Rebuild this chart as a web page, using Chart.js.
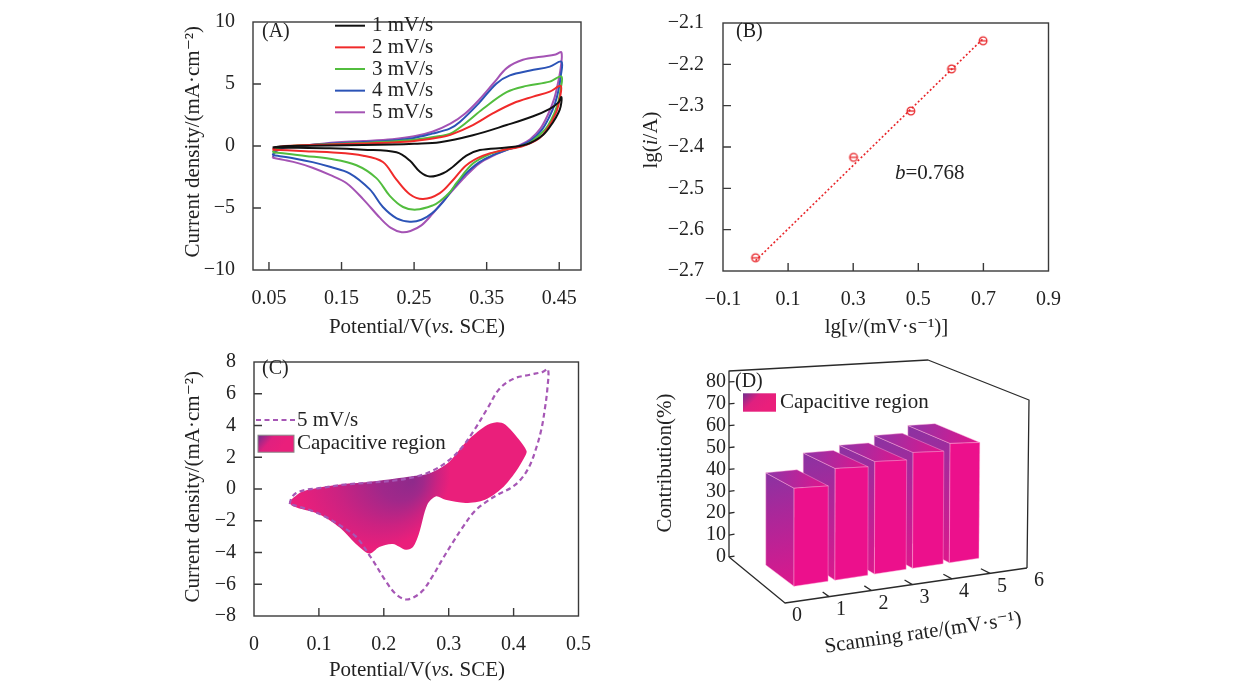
<!DOCTYPE html>
<html>
<head>
<meta charset="utf-8">
<script src="https://cdn.jsdelivr.net/npm/chart.js@4.4.0/dist/chart.umd.min.js"></script>
<style>
  html, body { margin: 0; padding: 0; background: #fff; }
  #fig { position: relative; width: 1236px; height: 681px; overflow: hidden; background: #fff; }
  #fig canvas { position: absolute; }
</style>
</head>
<body>
<div id="fig">
  <canvas id="panelA" width="420" height="340" style="left:180px;top:0px"></canvas>
  <canvas id="panelB" width="440" height="340" style="left:630px;top:0px"></canvas>
  <canvas id="panelC" width="420" height="341" style="left:180px;top:340px"></canvas>
  <canvas id="panelD" width="410" height="331" style="left:650px;top:350px"></canvas>
</div>
<script>
// ---- data ----
// (A) CV loops, [potential V, current density mA/cm2], anodic branch then back
const scanLabels = ['1 mV/s', '2 mV/s', '3 mV/s', '4 mV/s', '5 mV/s'];
const cv1 = [[0.055,-0.13],[0.065,-0.03],[0.08,0.0],[0.134,0.05],[0.18,0.08],[0.22,0.12],[0.25,0.18],[0.2855,0.3],[0.331,0.86],[0.3775,1.69],[0.414,2.4],[0.437,3.0],[0.4487,3.5],[0.453,3.95],
  [0.452,3.2],[0.449,2.7],[0.4417,1.94],[0.428,0.91],[0.405,0.13],[0.3775,-0.13],[0.3406,-0.33],[0.322,-0.78],[0.304,-1.65],[0.29,-2.2],[0.2717,-2.46],[0.258,-2.07],[0.244,-1.17],[0.2257,-0.51],[0.18,-0.3],[0.134,-0.18],[0.09,-0.15],[0.055,-0.13]];
const cv2 = [[0.055,-0.3],[0.058,-0.15],[0.065,-0.05],[0.08,0.02],[0.134,0.12],[0.18,0.2],[0.22,0.28],[0.25,0.4],[0.2855,0.7],[0.30,0.9],[0.331,1.69],[0.359,2.65],[0.3866,3.45],[0.414,3.98],[0.437,4.38],[0.452,4.85],
  [0.451,3.9],[0.447,2.9],[0.442,2.25],[0.437,1.69],[0.423,0.65],[0.40,0.0],[0.3727,-0.33],[0.345,-0.78],[0.322,-1.55],[0.304,-2.72],[0.2855,-3.8],[0.2624,-4.28],[0.244,-3.89],[0.2257,-2.72],[0.207,-1.29],[0.18,-0.78],[0.134,-0.51],[0.10,-0.42],[0.075,-0.35],[0.055,-0.3]];
const cv3 = [[0.055,-0.5],[0.058,-0.3],[0.065,-0.12],[0.08,0.0],[0.134,0.15],[0.18,0.25],[0.22,0.36],[0.25,0.5],[0.2855,0.8],[0.30,1.0],[0.32,1.8],[0.345,3.0],[0.3775,4.35],[0.405,4.85],[0.437,5.19],[0.453,5.6],
  [0.452,4.6],[0.449,3.6],[0.443,2.6],[0.435,1.7],[0.428,1.17],[0.415,0.5],[0.405,0.13],[0.3775,-0.26],[0.3544,-0.65],[0.331,-1.42],[0.3085,-2.98],[0.299,-3.75],[0.2855,-4.45],[0.276,-4.79],[0.2533,-5.13],[0.2348,-4.92],[0.2165,-4.02],[0.198,-2.59],[0.1706,-1.55],[0.134,-1.03],[0.10,-0.8],[0.075,-0.62],[0.055,-0.5]];
const cv4 = [[0.055,-0.75],[0.058,-0.45],[0.065,-0.2],[0.08,-0.03],[0.134,0.2],[0.18,0.32],[0.22,0.45],[0.25,0.65],[0.275,1.0],[0.299,1.4],[0.313,1.94],[0.34,3.5],[0.3636,5.05],[0.382,5.7],[0.41,6.09],[0.437,6.4],[0.453,6.8],
  [0.452,5.6],[0.449,4.5],[0.444,3.4],[0.436,2.3],[0.426,1.3],[0.412,0.5],[0.395,0.0],[0.378,-0.3],[0.36,-0.7],[0.34,-1.3],[0.32,-2.3],[0.304,-3.4],[0.29,-4.5],[0.275,-5.4],[0.26,-5.95],[0.244,-6.1],[0.226,-5.83],[0.207,-4.92],[0.189,-3.5],[0.161,-2.2],[0.134,-1.68],[0.11,-1.3],[0.085,-1.0],[0.065,-0.82],[0.055,-0.75]];
const cv5 = [[0.055,-0.95],[0.058,-0.55],[0.065,-0.25],[0.08,-0.05],[0.10,0.05],[0.14,0.28],[0.18,0.4],[0.22,0.55],[0.25,0.78],[0.275,1.15],[0.30,1.8],[0.32,2.6],[0.34,3.75],[0.36,5.1],[0.378,6.3],[0.40,6.95],[0.425,7.2],[0.445,7.38],[0.453,7.55],
  [0.452,6.3],[0.448,5.0],[0.443,3.8],[0.435,2.6],[0.424,1.4],[0.41,0.55],[0.395,0.05],[0.378,-0.3],[0.36,-0.75],[0.34,-1.4],[0.32,-2.5],[0.305,-3.45],[0.29,-4.45],[0.275,-5.5],[0.26,-6.4],[0.245,-6.85],[0.233,-6.95],[0.218,-6.6],[0.203,-5.8],[0.18,-4.3],[0.157,-3.0],[0.134,-2.33],[0.11,-1.75],[0.09,-1.38],[0.07,-1.12],[0.055,-0.95]];
const xTicksA = [0.05, 0.15, 0.25, 0.35, 0.45];
const yTicksA = [-10, -5, 0, 5, 10];

// (B) log peak current vs log scan rate, and the fitted line (b = 0.768)
const lgRate = [0, 0.301, 0.477, 0.602, 0.699];
const lgCurrent = [-2.668, -2.425, -2.313, -2.211, -2.143];
const fitX = [0, 0.699];
const fitY = [-2.675, -2.138];
const xTicksB = [-0.1, 0.1, 0.3, 0.5, 0.7, 0.9];
const yTicksB = [-2.7, -2.6, -2.5, -2.4, -2.3, -2.2, -2.1];

// (C) capacitive region outline at 5 mV/s
const capV = [0.054,0.075,0.127,0.178,0.238,0.269,0.300,0.326,0.356,0.374,0.387,0.408,0.420,0.418,0.403,0.382,0.356,0.326,0.295,0.280,0.267,0.254,0.245,0.234,0.214,0.193,0.178,0.157,0.132,0.101,0.060,0.054];
const capJ = [-0.78,-0.16,0.25,0.45,0.77,0.97,1.69,2.93,3.95,4.2,4.06,3.13,2.4,2.1,1.07,0.04,-0.68,-0.88,-0.68,-0.47,-0.99,-2.84,-3.66,-3.83,-3.46,-3.66,-4.07,-3.46,-2.43,-1.6,-1.09,-0.78];
const xTicksC = [0, 0.1, 0.2, 0.3, 0.4, 0.5];
const yTicksC = [-8, -6, -4, -2, 0, 2, 4, 6, 8];

// (D) capacitive contribution per scan rate
const scanRates = [1, 2, 3, 4, 5];
const contribution = [41.2, 48.6, 50.8, 54.2, 57.9];
const rateTicks = [0, 1, 2, 3, 4, 5, 6];
const contribTicks = [0, 10, 20, 30, 40, 50, 60, 70, 80];

// ---- styling ----
const FONT = "'Liberation Serif', 'Times New Roman', 'DejaVu Serif', serif";
const INK = '#222';
Chart.defaults.font.family = FONT;
Chart.defaults.color = INK;
const cvColors = ['#111111', '#f02a2a', '#52bd3e', '#2b53b6', '#a453b4'];
const PINK = '#ea1f7b';

function fmtNum(v, dec) {
  if (Math.abs(v) < 1e-9) return '0';
  const s = Math.abs(v).toFixed(dec);
  return v < 0 ? '\u2212' + s : s;
}

function linAxis(min, max, tickVals, dec, size, pad) {
  return {
    type: 'linear', min, max,
    grid: { display: false }, border: { display: false },
    ticks: { padding: pad, color: INK, font: { size: 20 }, autoSkip: false, maxRotation: 0,
      callback: v => fmtNum(v, dec) },
    afterBuildTicks: s => { s.ticks = tickVals.map(v => ({ value: v })); },
    afterFit: s => { if (s.isHorizontal()) s.height = size; else s.width = size; }
  };
}

function drawRich(ctx, it) {
  const size = it.size || 21;
  const font = ital => (ital ? 'italic ' : '') + size + 'px ' + FONT;
  ctx.save();
  ctx.translate(it.x, it.y);
  if (it.rot) ctx.rotate(it.rot);
  ctx.fillStyle = INK;
  ctx.textBaseline = 'middle';
  ctx.textAlign = 'left';
  let w = 0;
  it.parts.forEach(([s, ital]) => { ctx.font = font(ital); w += ctx.measureText(s).width; });
  let cx = it.align === 'left' ? 0 : it.align === 'right' ? -w : -w / 2;
  it.parts.forEach(([s, ital]) => { ctx.font = font(ital); ctx.fillText(s, cx, 0); cx += ctx.measureText(s).width; });
  ctx.restore();
}

// box round the plot area plus inward ticks
function frame(tickLen) {
  return {
    id: 'frame',
    afterDatasetsDraw(chart) {
      const { ctx, chartArea: a, scales: { x, y } } = chart;
      ctx.save();
      ctx.strokeStyle = '#3a3a3a';
      ctx.lineWidth = 1.4;
      ctx.strokeRect(a.left, a.top, a.width, a.height);
      ctx.beginPath();
      x.ticks.forEach(t => {
        const px = x.getPixelForValue(t.value);
        if (px > a.left + 2 && px < a.right - 2) { ctx.moveTo(px, a.bottom); ctx.lineTo(px, a.bottom - tickLen); }
      });
      y.ticks.forEach(t => {
        const py = y.getPixelForValue(t.value);
        if (py > a.top + 2 && py < a.bottom - 2) { ctx.moveTo(a.left, py); ctx.lineTo(a.left + tickLen, py); }
      });
      ctx.stroke();
      ctx.restore();
    }
  };
}

function notes(items) {
  return { id: 'notes', afterDraw(chart) { items.forEach(it => drawRich(chart.ctx, it)); } };
}

function swatchGrad(ctx, x, y, w, h) {
  const g = ctx.createLinearGradient(x, y, x + w * 0.55, y + h);
  g.addColorStop(0, '#6e2f8e');
  g.addColorStop(0.5, '#e0207f');
  g.addColorStop(1, PINK);
  return g;
}

// legend drawn from the datasets: line sample or filled swatch
function seriesKey(o) {
  return {
    id: 'seriesKey',
    afterDraw(chart) {
      const ctx = chart.ctx;
      chart.data.datasets.forEach((ds, i) => {
        const y = o.y + i * o.row;
        ctx.save();
        if (ds.fill) {
          const sx = o.x + 2, sy = y - o.sh / 2, sw = o.len - 3;
          ctx.fillStyle = swatchGrad(ctx, sx, sy, sw, o.sh);
          ctx.fillRect(sx, sy, sw, o.sh);
          ctx.strokeStyle = '#888'; ctx.lineWidth = 1;
          ctx.strokeRect(sx, sy, sw, o.sh);
        } else {
          ctx.strokeStyle = ds.borderColor;
          ctx.lineWidth = ds.borderWidth;
          ctx.setLineDash(ds.borderDash || []);
          ctx.beginPath(); ctx.moveTo(o.x, y); ctx.lineTo(o.x + o.len, y); ctx.stroke();
        }
        ctx.restore();
        drawRich(ctx, { x: o.x + o.len + o.gap, y, parts: [[ds.label]], size: o.size, align: 'left' });
      });
    }
  };
}

const baseOpts = (padding, x, y) => ({
  responsive: false, animation: false, events: [],
  layout: { padding },
  scales: { x, y },
  plugins: { legend: { display: false }, tooltip: { enabled: false } }
});

const toPts = arr => arr.map(p => ({ x: p[0], y: p[1] }));
const cvSeries = [cv1, cv2, cv3, cv4, cv5];

// ---- (A) ----
new Chart(document.getElementById('panelA'), {
  type: 'scatter',
  data: {
    datasets: cvSeries.map((c, i) => ({
      label: scanLabels[i], data: toPts(c), showLine: true,
      borderColor: cvColors[i], borderWidth: 2, pointRadius: 0, tension: 0.35, fill: false
    }))
  },
  options: baseOpts({ left: 0, top: 13, right: 19, bottom: 0 },
    linAxis(0.028, 0.48, xTicksA, 2, 70, 9),
    linAxis(-10, 10, yTicksA, 0, 73, 10)),
  plugins: [frame(8), seriesKey({ x: 155, y: 25.7, len: 30, gap: 7, row: 21.65, size: 21 }), notes([
    { x: 82, y: 31.7, parts: [['(A)']], size: 20, align: 'left' },
    { x: 237, y: 327, parts: [['Potential/V('], ['vs.', true], [' SCE)']] },
    { x: 13, y: 141.7, rot: -Math.PI / 2, parts: [['Current density/(mA\u00b7cm\u207b\u00b2)']] }
  ])]
});

// ---- (B) ----
function ringMarker(color) {
  const c = document.createElement('canvas');
  c.width = 12; c.height = 12;
  const g = c.getContext('2d');
  g.strokeStyle = color; g.lineWidth = 1.3;
  g.beginPath(); g.arc(6, 6, 3.8, 0, Math.PI * 2); g.stroke();
  g.beginPath(); g.moveTo(2.2, 6); g.lineTo(9.8, 6); g.stroke();
  return c;
}
new Chart(document.getElementById('panelB'), {
  type: 'scatter',
  data: {
    datasets: [
      { label: 'data', data: lgRate.map((v, i) => ({ x: v, y: lgCurrent[i] })),
        pointStyle: ringMarker('#e8262a'), pointRadius: 6 },
      { label: 'fit', data: fitX.map((v, i) => ({ x: v, y: fitY[i] })), showLine: true,
        borderColor: '#e8262a', borderWidth: 1.6, borderDash: [2, 2.2], pointRadius: 0 }
    ]
  },
  options: baseOpts({ left: 0, top: 13, right: 20, bottom: 0 },
    linAxis(-0.1, 0.9, xTicksB, 1, 69, 9),
    linAxis(-2.7, -2.1, yTicksB, 1, 93, 11)),
  plugins: [frame(8), notes([
    { x: 106, y: 31.7, parts: [['(B)']], size: 20, align: 'left' },
    { x: 265, y: 173, parts: [['b', true], ['=0.768']], align: 'left' },
    { x: 256.5, y: 327, parts: [['lg['], ['v', true], ['/(mV\u00b7s\u207b\u00b9)]']] },
    { x: 21.7, y: 140, rot: -Math.PI / 2, parts: [['lg('], ['i', true], ['/A)']] }
  ])]
});

// ---- (C) ----
// purple core near the top middle, magenta to the left, pink elsewhere
function regionFill(context) {
  const chart = context.chart;
  const { ctx, chartArea, scales } = chart;
  if (!chartArea) return PINK;
  const cx = scales.x.getPixelForValue(0.245), cy = scales.y.getPixelForValue(0.5);
  const g = ctx.createRadialGradient(cx, cy, 0, cx - 55, cy - 15, 105);
  g.addColorStop(0, '#8e2a8b');
  g.addColorStop(0.22, '#a0288a');
  g.addColorStop(0.5, '#cc2281');
  g.addColorStop(0.75, PINK);
  g.addColorStop(1, PINK);
  return g;
}
new Chart(document.getElementById('panelC'), {
  type: 'scatter',
  data: {
    datasets: [
      { label: '5 mV/s', data: toPts(cv5), showLine: true, borderColor: '#a657b5', borderWidth: 2.2,
        borderDash: [5, 3.5], pointRadius: 0, tension: 0.35, fill: false },
      { label: 'Capacitive region', data: capV.map((v, i) => ({ x: v, y: capJ[i] })), showLine: true,
        borderWidth: 0, borderColor: 'rgba(0,0,0,0)', pointRadius: 0, tension: 0.3,
        fill: 'shape', backgroundColor: regionFill }
    ]
  },
  options: baseOpts({ left: 0, top: 16, right: 19, bottom: 0 },
    linAxis(0, 0.5, xTicksC, 1, 65, 9),
    linAxis(-8, 8, yTicksC, 0, 74, 10)),
  plugins: [frame(8), seriesKey({ x: 76, y: 80, len: 39, gap: 2, row: 23.7, size: 21, sh: 17 }), notes([
    { x: 82, y: 28.3, parts: [['(C)']], size: 20, align: 'left' },
    { x: 237, y: 330, parts: [['Potential/V('], ['vs.', true], [' SCE)']] },
    { x: 13, y: 146.7, rot: -Math.PI / 2, parts: [['Current density/(mA\u00b7cm\u207b\u00b2)']] }
  ])]
});

// ---- (D) pseudo-3D bars ----
// corners of the drawn box on the canvas: floor (h=0) and top (h=max)
const BOX = {
  b0: [79, 207], f0: [135, 253], f6: [377, 218], b6: [278, 172],
  b0h: [79, 21], f0h: [135, 38], f6h: [379, 50], b6h: [278, 10]
};
const PERSP = 0.112;
const BAR_HALF = 0.415, BAR_D0 = 0.255, BAR_D1 = 0.72;

function bil(q00, q01, q11, q10, s, d) {
  return [0, 1].map(j => (1 - s) * ((1 - d) * q00[j] + d * q01[j]) + s * ((1 - d) * q10[j] + d * q11[j]));
}
function project(t, d, k) {
  const s = (1 + PERSP) * t / (1 + PERSP * t);
  const f = bil(BOX.b0, BOX.f0, BOX.f6, BOX.b6, s, d);
  const h = bil(BOX.b0h, BOX.f0h, BOX.f6h, BOX.b6h, s, d);
  return [f[0] + k * (h[0] - f[0]), f[1] + k * (h[1] - f[1])];
}

function box3d() {
  return {
    id: 'box3d',
    afterDatasetsDraw(chart) {
      const { ctx, scales: { x: xs, y: ys } } = chart;
      const tx = v => xs.getDecimalForPixel(xs.getPixelForValue(v));
      const ky = v => ys.getDecimalForPixel(ys.getPixelForValue(v));
      const path = pts => { ctx.beginPath(); pts.forEach((p, i) => i ? ctx.lineTo(p[0], p[1]) : ctx.moveTo(p[0], p[1])); };
      const face = (pts, fill) => {
        path(pts); ctx.closePath();
        ctx.fillStyle = fill; ctx.fill();
        ctx.strokeStyle = 'rgba(255,170,215,0.55)'; ctx.lineWidth = 0.8; ctx.stroke();
      };
      ctx.save();
      // box lines
      ctx.strokeStyle = '#2a2a2a'; ctx.lineWidth = 1.3; ctx.lineJoin = 'round';
      path([project(0, 0, 0), project(0, 0, 1), project(1, 0, 1), project(1, 1, 1), project(1, 1, 0)]); ctx.stroke();
      path([project(0, 0, 0), project(0, 1, 0), project(1, 1, 0)]); ctx.stroke();
      // axis ticks
      ctx.beginPath();
      rateTicks.forEach(r => {
        const t = tx(r);
        if (t <= 0.001 || t >= 0.999) return;
        const a = project(t, 1, 0), b = project(t, 0.9, 0);
        ctx.moveTo(a[0], a[1]); ctx.lineTo(b[0], b[1]);
      });
      contribTicks.forEach(v => {
        const a = project(0, 0, ky(v)), b = project(0.025, 0, ky(v));
        ctx.moveTo(a[0], a[1]); ctx.lineTo(b[0], b[1]);
      });
      ctx.stroke();
      // bars, far (right) to near (left)
      const pts = chart.data.datasets[0].data;
      for (let i = pts.length - 1; i >= 0; i--) {
        const t0 = tx(pts[i].x - BAR_HALF), t1 = tx(pts[i].x + BAR_HALF), k = ky(pts[i].y);
        const d0 = BAR_D0, d1 = BAR_D1;
        const sTop = project(t0, d0, k), sBot = project(t0, d1, 0);
        const gs = ctx.createLinearGradient(sTop[0], sTop[1], sBot[0], sBot[1]);
        gs.addColorStop(0, '#8a33a2'); gs.addColorStop(0.35, '#a9289a'); gs.addColorStop(1, '#dc188c');
        face([project(t0, d0, 0), project(t0, d1, 0), project(t0, d1, k), project(t0, d0, k)], gs);
        const a = project(t0, d0, k), b = project(t1, d1, k);
        const gt = ctx.createLinearGradient(a[0], a[1], b[0], b[1]);
        gt.addColorStop(0, '#8e36a8'); gt.addColorStop(1, '#e2148c');
        face([project(t0, d0, k), project(t1, d0, k), project(t1, d1, k), project(t0, d1, k)], gt);
        face([project(t0, d1, 0), project(t1, d1, 0), project(t1, d1, k), project(t0, d1, k)], '#ec108c');
      }
      ctx.restore();
      // tick labels
      rateTicks.forEach(r => {
        const p = project(tx(r), 1, 0);
        drawRich(ctx, { x: p[0] + 12, y: p[1] + 13, parts: [[String(r)]], size: 20 });
      });
      contribTicks.forEach(v => {
        const p = project(0, 0, ky(v));
        drawRich(ctx, { x: p[0] - 3, y: p[1], parts: [[String(v)]], size: 20, align: 'right' });
      });
      // legend
      ctx.save();
      ctx.fillStyle = swatchGrad(ctx, 93, 43.3, 33, 18.4);
      ctx.fillRect(93, 43.3, 33, 18.4);
      ctx.restore();
      drawRich(ctx, { x: 130, y: 52.5, parts: [['Capacitive region']], size: 21, align: 'left' });
      drawRich(ctx, { x: 85, y: 31.7, parts: [['(D)']], size: 20, align: 'left' });
      const a0 = project(0, 1, 0), a1 = project(1, 1, 0);
      drawRich(ctx, { x: 273, y: 283, rot: Math.atan2(a1[1] - a0[1], a1[0] - a0[0]),
        parts: [['Scanning rate/(mV\u00b7s\u207b\u00b9)']] });
      drawRich(ctx, { x: 15, y: 113, rot: -Math.PI / 2, parts: [['Contribution(%)']] });
    }
  };
}

new Chart(document.getElementById('panelD'), {
  type: 'scatter',
  data: { datasets: [{ label: 'Capacitive region', data: scanRates.map((r, i) => ({ x: r, y: contribution[i] })), pointRadius: 0 }] },
  options: baseOpts({ left: 0, top: 0, right: 0, bottom: 0 },
    { type: 'linear', min: 0, max: 6, display: false },
    { type: 'linear', min: 0, max: 85, display: false }),
  plugins: [box3d()]
});
</script>
</body>
</html>
